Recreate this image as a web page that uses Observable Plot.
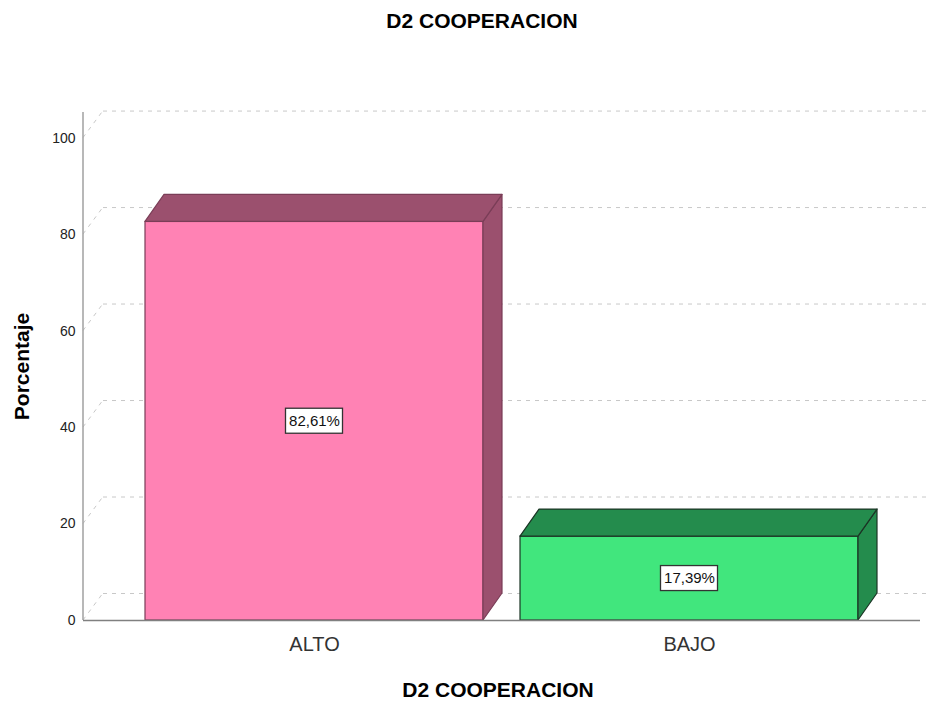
<!DOCTYPE html>
<html><head><meta charset="utf-8">
<script src="https://cdn.jsdelivr.net/npm/d3@7"></script>
<script src="https://cdn.jsdelivr.net/npm/@observablehq/plot@0.6"></script>
<style>
body{margin:0;background:#fff;}
svg{font-family:"Liberation Sans", Arial, sans-serif;}
</style>
</head><body><div id="chart"></div>
<script>
const title = "D2 COOPERACION";
const xTitle = "D2 COOPERACION";
const yTitle = "Porcentaje";
const categories = ["ALTO", "BAJO"];
const percentages = [82.61, 17.39];
const valueLabels = ["82,61%", "17,39%"];
const yTicks = [0, 20, 40, 60, 80, 100];
const frontColors = ["#FF82B4", "#41E67D"];
const darkColors = ["#9B506E", "#248C4D"];
const edgeColors = ["#7a3d57", "#1b3525"];

const data = categories.map((c, i) => ({
  cat: c, value: percentages[i], label: valueLabels[i],
  front: frontColors[i], dark: darkColors[i], edge: edgeColors[i]
}));

const DX = 19, DY = -27;
const ns = "http://www.w3.org/2000/svg";
function el(tag, attrs) {
  const e = document.createElementNS(ns, tag);
  for (const k in attrs) e.setAttribute(k, attrs[k]);
  return e;
}

const gridDiagonals = (index, scales, values, dim) => {
  const g = el("g", {stroke: "#c8c8c8", "stroke-dasharray": "4,5", fill: "none"});
  for (const t of yTicks) {
    const yy = scales.y(t);
    g.append(el("line", {x1: dim.marginLeft, y1: yy, x2: dim.marginLeft + DX + 1, y2: yy + DY}));
  }
  return g;
};

const depthFaces = (index, scales, values, dim) => {
  const g = el("g", {});
  const x = scales.x, y = scales.y, bw = x.bandwidth ? x.bandwidth() : 0;
  for (const d of data) {
    const x1 = x(d.cat), x2 = x1 + bw, yt = y(d.value), yb = y(0);
    const common = {fill: d.dark, stroke: d.edge, "stroke-width": 1.2, "stroke-linejoin": "round"};
    g.append(el("path", {d: `M${x2},${yb}L${x2},${yt}L${x2 + DX},${yt + DY}L${x2 + DX},${yb + DY}Z`, ...common}));
    g.append(el("path", {d: `M${x1},${yt}L${x2},${yt}L${x2 + DX},${yt + DY}L${x1 + DX},${yt + DY}Z`, ...common}));
  }
  return g;
};

const labelBoxes = (index, scales, values, dim) => {
  const g = el("g", {});
  const x = scales.x, y = scales.y, bw = x.bandwidth ? x.bandwidth() : 0;
  for (const d of data) {
    const cx = x(d.cat) + bw / 2, cy = y(d.value / 2);
    const w = d.label.length * 8.5 + 6, h = 25;
    g.append(el("rect", {x: cx - w / 2, y: cy - h / 2, width: w, height: h, fill: "#fff", stroke: "#333", "stroke-width": 1.3}));
  }
  return g;
};

const axisLine = (index, scales, values, dim) => {
  return el("line", {x1: dim.marginLeft, x2: dim.marginLeft, y1: dim.marginTop, y2: dim.height - dim.marginBottom, stroke: "#a0a0a0", "stroke-width": 1.5});
};

const chart = Plot.plot({
  width: 930, height: 704,
  marginLeft: 83, marginRight: 10, marginTop: 112, marginBottom: 84,
  style: {fontFamily: "Liberation Sans, Arial, sans-serif", background: "white", overflow: "visible"},
  x: {domain: categories, paddingInner: 0.0987, paddingOuter: 0.163, label: null},
  y: {domain: [0, 105.3], label: null},
  color: {type: "identity"},
  marks: [
    Plot.ruleY(yTicks, {dx: DX + 1, dy: DY, stroke: "#c8c8c8", strokeDasharray: "4,5"}),
    gridDiagonals,
    Plot.barY(data, {x: "cat", y: "value", fill: d => d.front, stroke: d => d.edge, strokeWidth: 1.2}),
    depthFaces,
    labelBoxes,
    Plot.text(data, {x: "cat", y: d => d.value / 2, text: "label", fontSize: 15, fill: "#111"}),
    Plot.ruleY([0], {stroke: "#808080", strokeWidth: 1.5}),
    axisLine,
    Plot.axisY({ticks: yTicks, tickSize: 0, tickPadding: 8, fontSize: 14, label: null, color: "#222"}),
    Plot.axisX({tickSize: 0, tickPadding: 16, fontSize: 20, label: null, color: "#333"}),
    Plot.text([yTitle], {text: d => d, frameAnchor: "left", dx: -61, rotate: -90, fontSize: 21, fontWeight: "bold", fill: "#000", lineAnchor: "middle", textAnchor: "middle"}),
    Plot.text([title], {text: d => d, frameAnchor: "top", dx: -20, dy: -91, fontSize: 21, fontWeight: "bold", fill: "#000", lineAnchor: "middle", textAnchor: "middle"}),
    Plot.text([xTitle], {text: d => d, frameAnchor: "bottom", dx: -4, dy: 70, fontSize: 21, fontWeight: "bold", fill: "#000", lineAnchor: "middle", textAnchor: "middle"})
  ]
});
document.getElementById("chart").append(chart);
</script>
</body></html>
